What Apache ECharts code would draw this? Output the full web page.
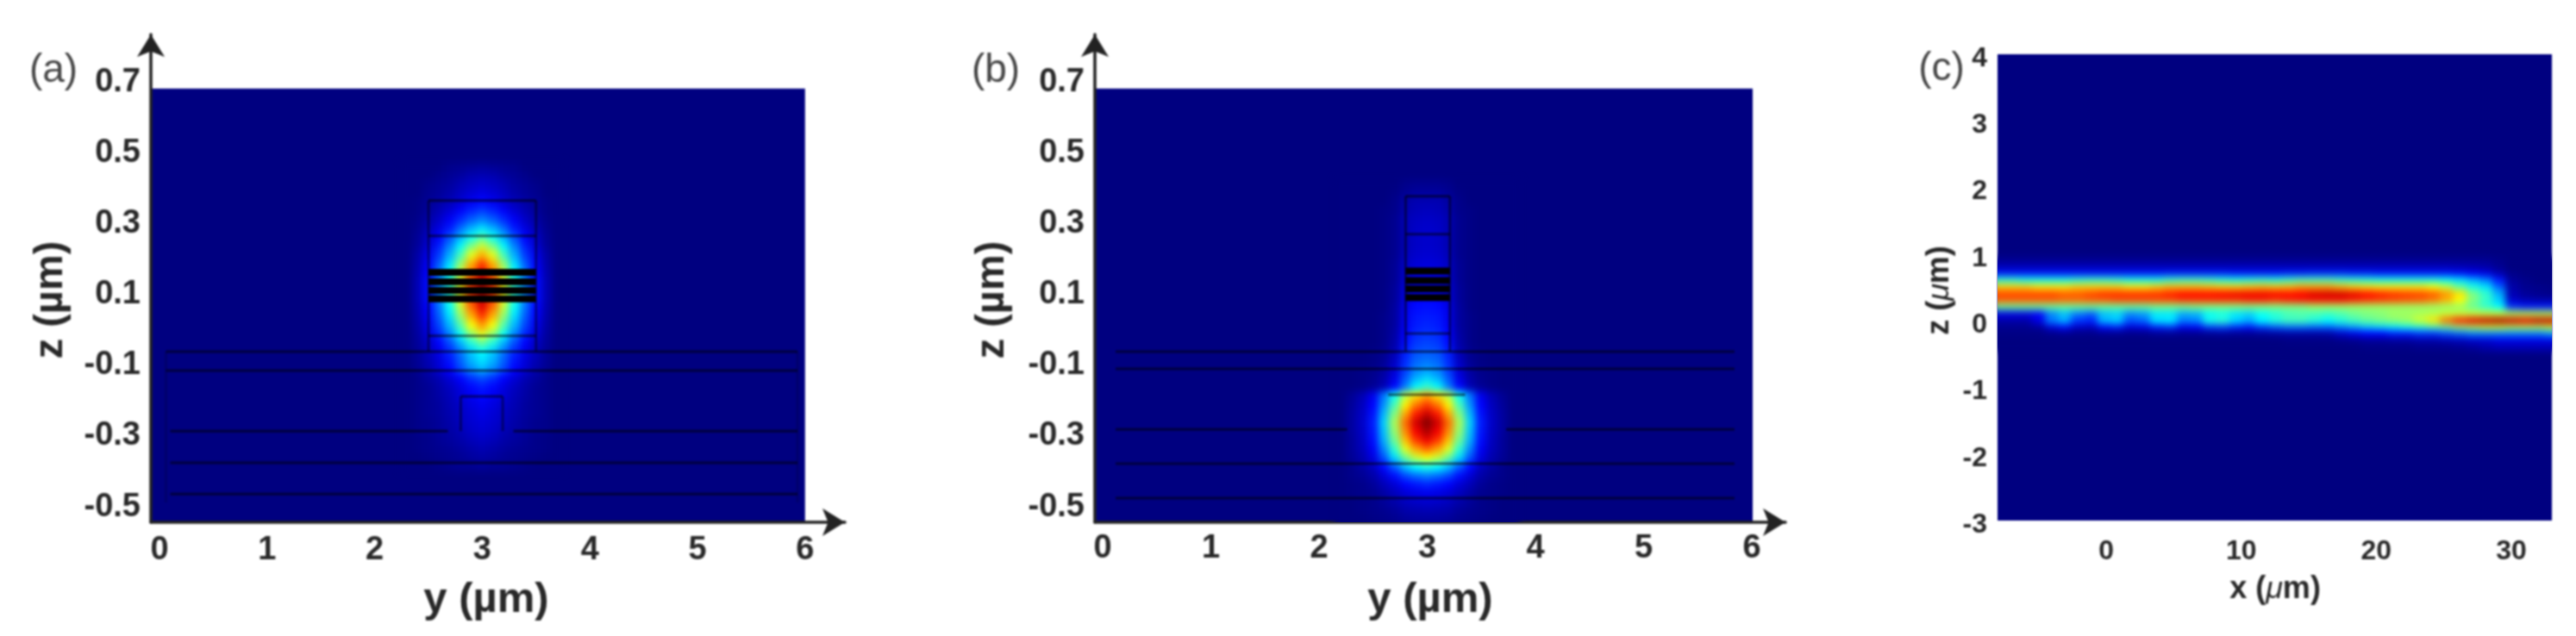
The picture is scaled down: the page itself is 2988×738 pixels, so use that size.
<!DOCTYPE html>
<html>
<head>
<meta charset="utf-8">
<style>html,body{margin:0;padding:0;background:#fff}#c{width:2988px;height:738px}</style>
<script src="https://cdn.jsdelivr.net/npm/echarts@6/dist/echarts.min.js"></script>
</head>
<body>
<div id="c"></div>
<script>
// ---- tick labels ----
const yTicksAB = [0,1,2,3,4,5,6];
const zTicksAB = [-0.5,-0.3,-0.1,0.1,0.3,0.5,0.7];
const xTicksC = [0,10,20,30];
const zTicksC = [-3,-2,-1,0,1,2,3,4];

// ---- panel (a): intensity, 0..20 ----
const yA = [2.3,2.4,2.5,2.6,2.7,2.8,2.9,3.0,3.1,3.2,3.3,3.4,3.5,3.6,3.7];
const zA = [0.45,0.425,0.4,0.375,0.35,0.325,0.3,0.275,0.25,0.225,0.2,0.175,0.15,0.125,0.1,0.075,0.05,0.025,0,-0.025,-0.05,-0.075,-0.1,-0.125,-0.15,-0.175,-0.2,-0.225,-0.25,-0.275,-0.3,-0.325,-0.35,-0.375,-0.4];
const fieldA = [
[0,0,0,0,.2,.3,.4,.5,.4,.3,.2,0,0,0,0],
[0,0,0,.2,.4,.6,.9,1,.9,.6,.4,.2,0,0,0],
[0,0,.2,.4,.6,1,1.3,1.5,1.3,1,.6,.4,.2,0,0],
[0,0,.3,.5,.8,1.3,1.7,2,1.7,1.3,.8,.5,.3,0,0],
[0,.1,.4,.7,1.1,1.6,2.2,2.6,2.2,1.6,1.1,.7,.4,.1,0],
[0,.1,.5,1,1.6,2.4,3.1,3.6,3.1,2.4,1.6,1,.5,.1,0],
[0,.2,.7,1.4,2.3,3.3,4.3,5,4.3,3.3,2.3,1.4,.7,.2,0],
[0,.3,1,1.9,3,4.6,6,7,6,4.6,3,1.9,1,.3,0],
[0,.4,1.3,2.4,4,5.9,7.7,9,7.7,5.9,4,2.4,1.3,.4,0],
[0,.5,1.6,3,5,7.4,9.8,11.5,9.8,7.4,5,3,1.6,.5,0],
[0,.7,2,3.6,5.9,8.8,11.9,14,11.9,8.8,5.9,3.6,2,.7,0],
[0,.8,2.3,4.3,6.9,10.4,14,16.5,14,10.4,6.9,4.3,2.3,.8,0],
[0,.9,2.5,4.7,7.6,11.3,15.3,18,15.3,11.3,7.6,4.7,2.5,.9,0],
[0,1,2.7,4.9,8,12,16.2,19,16.2,12,8,4.9,2.7,1,0],
[0,1,2.7,5.1,8.2,12.3,16.6,19.5,16.6,12.3,8.2,5.1,2.7,1,0],
[0,1,2.7,4.9,8,12,16.2,19,16.2,12,8,4.9,2.7,1,0],
[0,.9,2.5,4.7,7.6,11.3,15.3,18,15.3,11.3,7.6,4.7,2.5,.9,0],
[0,.8,2.3,4.3,6.9,10.4,14,16.5,14,10.4,6.9,4.3,2.3,.8,0],
[0,.7,2,3.8,6.1,9.1,12.3,14.5,12.3,9.1,6.1,3.8,2,.7,0],
[0,.6,1.7,3.1,5,7.6,10.2,12,10.2,7.6,5,3.1,1.7,.6,0],
[0,.5,1.3,2.5,4,6,8.1,9.5,8.1,6,4,2.5,1.3,.5,0],
[0,.4,1.1,2,3.2,4.7,6.4,7.5,6.4,4.7,3.2,2,1.1,.4,0],
[0,.4,1,1.8,2.9,4.4,6,7,6,4.4,2.9,1.8,1,.4,0],
[0,.3,.8,1.6,2.5,3.8,5.1,6,5.1,3.8,2.5,1.6,.8,.3,0],
[0,.2,.6,1,1.7,2.5,3.4,4,3.4,2.5,1.7,1,.6,.2,0],
[0,.2,.4,.8,1.3,1.9,2.6,3,2.6,1.9,1.3,.8,.4,.2,0],
[0,.2,.4,.7,1.1,1.7,2.2,2.6,2.2,1.7,1.1,.7,.4,.2,0],
[0,.2,.4,.6,1,1.4,1.9,2.2,1.9,1.4,1,.6,.4,.2,0],
[0,.2,.4,.6,.9,1.3,1.7,2,1.7,1.3,.9,.6,.4,.2,0],
[0,.2,.3,.5,.8,1.2,1.6,1.8,1.6,1.2,.8,.5,.3,.2,0],
[0,.2,.3,.5,.7,1,1.4,1.6,1.4,1,.7,.5,.3,.2,0],
[0,.1,.2,.4,.6,.8,1.1,1.3,1.1,.8,.6,.4,.2,.1,0],
[0,.1,.2,.3,.4,.6,.8,1,.8,.6,.4,.3,.2,.1,0],
[0,0,.1,.2,.3,.4,.6,.7,.6,.4,.3,.2,.1,0,0],
[0,0,0,.1,.2,.3,.3,.4,.3,.3,.2,.1,0,0,0]
];

// ---- panel (b) ----
const yB = [2.2,2.3,2.4,2.5,2.6,2.7,2.8,2.9,3.0,3.1,3.2,3.3,3.4,3.5,3.6,3.7,3.8];
const zB = [0.4,0.375,0.35,0.325,0.3,0.275,0.25,0.225,0.2,0.175,0.15,0.125,0.1,0.075,0.05,0.025,0,-0.025,-0.05,-0.075,-0.1,-0.125,-0.15,-0.175,-0.2,-0.225,-0.25,-0.275,-0.3,-0.325,-0.35,-0.375,-0.4,-0.425,-0.45,-0.475,-0.5,-0.525,-0.55];
const fieldB = [
[0,0,0,0,0,0,.2,.3,.3,.3,.2,0,0,0,0,0,0],
[0,0,0,0,0,.1,.4,.6,.6,.6,.4,.1,0,0,0,0,0],
[0,0,0,0,0,.2,.7,1,1,1,.7,.2,0,0,0,0,0],
[0,0,0,0,.1,.2,.8,1.1,1.2,1.1,.8,.2,.1,0,0,0,0],
[0,0,0,0,.1,.3,1,1.3,1.4,1.3,1,.3,.1,0,0,0,0],
[0,0,0,0,.1,.3,1,1.4,1.5,1.4,1,.3,.1,0,0,0,0],
[0,0,0,0,.1,.3,1,1.4,1.5,1.4,1,.3,.1,0,0,0,0],
[0,0,0,0,.1,.3,1,1.4,1.5,1.4,1,.3,.1,0,0,0,0],
[0,0,0,0,.1,.3,1.1,1.5,1.6,1.5,1.1,.3,.1,0,0,0,0],
[0,0,0,0,.1,.4,1.3,1.7,1.8,1.7,1.3,.4,.1,0,0,0,0],
[0,0,0,0,.1,.4,1.4,1.9,2,1.9,1.4,.4,.1,0,0,0,0],
[0,0,0,0,.1,.4,1.5,2.1,2.2,2.1,1.5,.4,.1,0,0,0,0],
[0,0,0,0,.1,.5,1.7,2.3,2.4,2.3,1.7,.5,.1,0,0,0,0],
[0,0,0,0,.1,.5,1.8,2.5,2.6,2.5,1.8,.5,.1,0,0,0,0],
[0,0,0,0,.1,.6,2,2.7,2.8,2.7,2,.6,.1,0,0,0,0],
[0,0,0,0,.2,.6,2.1,2.9,3,2.9,2.1,.6,.2,0,0,0,0],
[0,0,0,0,.2,.6,2.2,3,3.2,3,2.2,.6,.2,0,0,0,0],
[0,0,0,0,.2,.7,2.5,3.3,3.5,3.3,2.5,.7,.2,0,0,0,0],
[0,0,0,0,.2,.8,2.7,3.6,3.8,3.6,2.7,.8,.2,0,0,0,0],
[0,0,0,.1,.3,1,3,4,4.2,4,3,1,.3,.1,0,0,0],
[0,0,0,.1,.4,1.3,3.3,4.5,4.8,4.5,3.3,1.3,.4,.1,0,0,0],
[0,0,.1,.2,.6,1.6,3.6,5,5.5,5,3.6,1.6,.6,.2,.1,0,0],
[0,0,.1,.3,.8,2,4.2,6,6.8,6,4.2,2,.8,.3,.1,0,0],
[0,0,.1,.4,1,2.6,5,7.4,8.5,7.4,5,2.6,1,.4,.1,0,0],
[0,.4,1,2.2,4.8,7.8,11.2,13.3,14.5,13.3,11.2,7.8,4.8,2.2,1,.4,0],
[0,.5,1.2,2.5,5.4,8.9,12.7,15.2,16.5,15.2,12.7,8.9,5.4,2.5,1.2,.5,0],
[0,.6,1.3,2.8,6.1,10,14.2,17,18.5,17,14.2,10,6.1,2.8,1.3,.6,0],
[0,.6,1.4,3,6.6,10.8,15.4,18.4,20,18.4,15.4,10.8,6.6,3,1.4,.6,0],
[0,.6,1.3,2.9,6.3,10.4,14.8,17.7,19.2,17.7,14.8,10.4,6.3,2.9,1.3,.6,0],
[0,.5,1.2,2.7,5.9,9.6,13.7,16.4,17.8,16.4,13.7,9.6,5.9,2.7,1.2,.5,0],
[0,.5,1.1,2.3,5.1,8.4,11.9,14.3,15.5,14.3,11.9,8.4,5.1,2.3,1.1,.5,0],
[0,.4,.9,1.9,4.1,6.8,9.6,11.5,12.5,11.5,9.6,6.8,4.1,1.9,.9,.4,0],
[0,.2,.6,1.2,2.6,4.3,6.2,7.4,8,7.4,6.2,4.3,2.6,1.2,.6,.2,0],
[0,.2,.4,.8,1.7,2.7,3.9,4.6,5,4.6,3.9,2.7,1.7,.8,.4,.2,0],
[0,.1,.2,.5,1.1,1.7,2.5,2.9,3.2,2.9,2.5,1.7,1.1,.5,.2,.1,0],
[0,.1,.2,.3,.7,1.2,1.7,2,2.2,2,1.7,1.2,.7,.3,.2,.1,0],
[0,0,.1,.2,.5,.8,1.2,1.4,1.5,1.4,1.2,.8,.5,.2,.1,0,0],
[0,0,.1,.2,.3,.5,.8,.9,1,.9,.8,.5,.3,.2,.1,0,0],
[0,0,0,.1,.2,.3,.5,.6,.6,.6,.5,.3,.2,.1,0,0,0]
];

// ---- panel (c) ----
const xC = [-7.93,-6.95,-5.98,-5,-4.03,-3.05,-2.08,-1.1,-.13,.85,1.82,2.8,3.77,4.75,5.72,6.7,7.67,8.65,9.62,10.6,11.57,12.55,13.52,14.5,15.47,16.45,17.42,18.4,19.37,20.35,21.32,22.3,23.27,24.25,25.22,26.2,27.17,28.15,29.12,30.1,31.07,32.05,33.02];
const zC = [0.9,0.8,0.7,0.6,0.5,0.4,0.3,0.2,0.1,0,-0.1,-0.2,-0.3,-0.4];
const fieldC = [
[.4,.4,.4,.4,.4,.4,.4,.4,.4,.4,.4,.4,.4,.4,.4,.4,.4,.4,.4,.4,.4,.4,.4,.4,.4,.4,.4,.4,.4,.4,.4,.4,.4,.4,.4,.4,.4,.4,.2,0,0,0,0],
[1.2,1.2,1.2,1.2,1.2,1.2,1.2,1.2,1.2,1.2,1.2,1.2,1.2,1.2,1.2,1.2,1.2,1.2,1.2,1.2,1.2,1.2,1.2,1.2,1.2,1.2,1.2,1.2,1.2,1.2,1.2,1.2,1.2,1.2,1.2,1.1,1,.8,.4,0,0,0,0],
[3,3,3,3,3,3,3,3,3,3,3,3,3,3.2,3.2,3.2,3.2,3.2,3,3,3,3,3.2,3.2,3.4,3.4,3.4,3.2,3.2,3,3,3,3,3,3,2.8,2.4,2,1,.2,0,0,0],
[8.4,8.4,8,8,8,8,8.4,8.6,8.6,8.4,8,8,8,8.6,8.8,8.8,8.6,8.2,8,8.2,8.4,8.2,8.6,9,9,9,8.6,8.4,8.2,8,8,8,8,8,7.6,7,6,5,3,.5,.2,0,0],
[13.5,13.5,13.5,13,13,13,13.5,13.5,13.5,13.5,13,13,13.5,14,14,14,13.8,13.5,13.5,13.8,14,13.8,14,14.5,14.5,14.5,14,13.5,13.2,13,13,13,13,12.5,11.5,9.5,8,7,4.5,.8,.3,.2,.1],
[16.2,16.2,16.2,16.2,16.2,15.8,15.8,16.2,16.6,16.6,16.6,16.6,16.6,17,17.4,17.4,17.4,17.6,17.8,17.8,17.8,17.6,17.4,17.6,18.2,18.4,18.4,18,17.4,17,16.6,16.4,16.2,15.8,14.6,13,10,8.5,6,1,.5,.3,.2],
[15.6,15.6,15.6,15.6,15.6,15.4,15.4,15.6,15.6,16,16,16,16,16,16.4,16.4,16.4,16.4,16.4,16.8,16.8,16.4,16.8,17,17.2,17.2,17.2,16.8,16.4,16.2,16,15.8,15.6,15,14,12.4,10,8.5,6.5,1.5,1,.8,.8],
[9.5,9.5,9.5,9.5,9.5,9.5,9.5,9.5,9.5,9.5,9.5,9.5,9.8,9.8,9.8,10,10,10,10,10,10,10,10,10,10.5,10.5,10.5,10.5,10.5,10.5,10.5,10.5,10.5,10.5,10.5,10.5,9.5,8.5,7.5,3.5,3,3,3],
[2,2,2,2.5,5,6.2,5,4.4,6.2,6.6,5.2,5.6,7,7,5.8,6,7.4,7.8,7,6.6,7.6,8.2,8.8,9,8.8,8.6,9,9.6,10,10.2,10.6,10.6,10.8,11,11.4,11.4,11.4,11.4,11.4,11,11,11,11],
[.8,.8,.8,2,5,6,3.6,3.2,6.2,6.6,4.2,4.6,7,7.2,5,5.2,8,8.4,6.8,6,7.4,8.2,8.8,8.8,8.2,7.6,8.2,8.8,9.4,9.8,10.2,10.6,11.6,13,15.4,17,18,18.6,19,18.4,18,18.6,18.6],
[.3,.3,.3,.5,1.8,2.6,1.4,1.2,2.6,3,1.8,2,3,3.4,2.2,2.4,3.6,3.8,3.2,2.8,3.6,4.2,4.6,4.6,4.4,4.4,5,5.6,6.4,6.8,7.2,7.8,8.2,8.8,9.5,10.5,11,11.5,11.5,11,11,11,11.5],
[.1,.1,.1,.1,.2,.3,.2,.2,.3,.3,.2,.2,.4,.4,.3,.3,.4,.5,.4,.4,.5,.6,.7,.7,.7,.8,1.5,2,2.5,2.5,3,3,3.5,3.5,4,4.5,5,5,5,5,5,5,5.5],
[0,0,0,0,0,0,0,0,0,0,0,0,0,0,0,0,0,0,0,0,0,0,.1,.1,.1,.1,.2,.3,.5,.5,.6,.6,.8,.8,1,1.2,1.5,1.6,2,2,2,2,2],
[0,0,0,0,0,0,0,0,0,0,0,0,0,0,0,0,0,0,0,0,0,0,0,0,0,0,0,0,.1,.1,.1,.1,.2,.2,.2,.3,.5,.8,1,1,1,1,1]
];

// ---- outlines of the waveguide layers: [from, to, z] and [at, zFrom, zTo] ----
const layerLinesA = [[2.5,3.5,.354],[2.5,3.5,.254],[2.5,3.5,-.029],[.06,5.93,-.073],[.06,5.93,-.127],[2.8,3.19,-.2],[.1,2.68,-.298],[3.29,5.93,-.298],[.1,5.93,-.388],[.1,5.93,-.476]];
const sideLinesA = [[2.5,.354,-.073],[3.5,.354,-.073],[2.8,-.2,-.298],[3.19,-.2,-.298]];
const outerLinesA = [[.06,-.073,-.5],[5.93,-.073,-.5]];
const wellLinesA = [[2.5,3.5,.151],[2.5,3.5,.124],[2.5,3.5,.1],[2.5,3.5,.076]];
const layerLinesB = [[2.8,3.21,.366],[2.8,3.21,.259],[2.8,3.21,-.022],[.12,5.84,-.073],[.12,5.84,-.122],[2.64,3.35,-.195],[.12,2.26,-.293],[3.73,5.84,-.293],[.12,5.84,-.39],[.12,5.84,-.488]];
const sideLinesB = [[2.8,.366,-.073],[3.21,.366,-.073]];
const wellLinesB = [[2.8,3.21,.155],[2.8,3.21,.128],[2.8,3.21,.104],[2.8,3.21,.08]];

// ---- image extents in data units: [xMin, xMax, zMin, zMax] ----
const extentA = [-0.08, 6, -0.556, 0.671];
const extentB = [-0.072, 6.008, -0.556, 0.671];
const extentC = [-8.05, 33, -3, 4];

const jet = ['#000080','#0000ff','#0080ff','#00ffff','#80ff80','#ffff00','#ff8000','#ff0000','#800000'];
const font = '"Liberation Sans", Arial, sans-serif';
const ink = '#282828';

function cells(xs, zs, rows){
  const out = [];
  rows.forEach((r,i)=>r.forEach((v,j)=>out.push([xs[j], zs[i], v])));
  return out;
}
function cellRenderer(dx,dz){
  return (p,api)=>{
    const a = api.coord([api.value(0)-dx/2, api.value(1)+dz/2]);
    const b = api.coord([api.value(0)+dx/2, api.value(1)-dz/2]);
    return {type:'rect',silent:true,
      shape:{x:Math.floor(a[0]),y:Math.floor(a[1]),width:Math.ceil(b[0]-a[0])+1,height:Math.ceil(b[1]-a[1])+1},
      style:{fill:api.visual('color')}};
  };
}
function heat(g,xs,zs,rows,dx,dz){
  return {type:'custom',xAxisIndex:g,yAxisIndex:g,zlevel:1,silent:true,animation:false,
    clip:false,data:cells(xs,zs,rows),encode:{x:0,y:1},renderItem:cellRenderer(dx,dz)};
}
function base(g,e){
  return {type:'custom',xAxisIndex:g,yAxisIndex:g,z:1,silent:true,animation:false,data:[e],
    renderItem:(p,api)=>{
      const a=api.coord([api.value(0),api.value(3)]), b=api.coord([api.value(1),api.value(2)]);
      return {type:'rect',shape:{x:a[0],y:a[1],width:b[0]-a[0],height:b[1]-a[1]},style:{fill:jet[0]}};
    }};
}
function hLines(g,data,w,alpha){
  return {type:'custom',xAxisIndex:g,yAxisIndex:g,zlevel:2,silent:true,animation:false,data,
    renderItem:(p,api)=>{
      const a=api.coord([api.value(0),api.value(2)]), b=api.coord([api.value(1),api.value(2)]);
      return {type:'line',shape:{x1:a[0],y1:a[1],x2:b[0],y2:b[1]},style:{stroke:'#000',lineWidth:w,opacity:alpha}};
    }};
}
function vLines(g,data,w,alpha){
  return {type:'custom',xAxisIndex:g,yAxisIndex:g,zlevel:2,silent:true,animation:false,data,
    renderItem:(p,api)=>{
      const a=api.coord([api.value(0),api.value(1)]), b=api.coord([api.value(0),api.value(2)]);
      return {type:'line',shape:{x1:a[0],y1:a[1],x2:b[0],y2:b[1]},style:{stroke:'#000',lineWidth:w,opacity:alpha}};
    }};
}
function xAxisOf(g,min,max,ticks,size,margin,arrow){
  return {type:'value',gridIndex:g,min,max,z:5,splitLine:{show:false},axisTick:{show:false},
    axisLine:{show:arrow,onZero:false,symbol:['none','arrow'],symbolSize:[24,26],lineStyle:{color:'#222',width:3.5}},
    axisLabel:{customValues:ticks,color:ink,fontFamily:font,fontWeight:'bold',fontSize:size,margin,formatter:v=>String(v)}};
}
function yAxisOf(g,min,max,ticks,size,margin,arrow,shift){
  return {type:'value',gridIndex:g,min,max,z:5,splitLine:{show:false},axisTick:{show:false},
    axisLine:{show:arrow,onZero:false,symbol:['none','arrow'],symbolSize:[24,26],lineStyle:{color:'#222',width:3.5}},
    axisLabel:{customValues:ticks,color:ink,margin,formatter:v=>'{s|'+v+'}',
      rich:{s:{color:ink,fontFamily:font,fontWeight:'bold',fontSize:size,padding:[shift,0,0,0]}}}};
}
function label(text,x,y,size,weight,rot,color){
  return {type:'text',x,y,rotation:rot||0,z:10,silent:true,
    style:{text,fill:color||ink,fontFamily:font,fontWeight:weight,fontSize:size,align:'center',verticalAlign:'middle'}};
}
function richLabel(text,x,y,size,rot){
  return {type:'text',x,y,rotation:rot||0,z:10,silent:true,
    style:{text,fill:ink,fontFamily:font,fontWeight:'bold',fontSize:size,align:'center',verticalAlign:'middle',
      rich:{b:{fill:ink,fontFamily:font,fontWeight:'bold',fontSize:size},
            i:{fill:ink,fontFamily:font,fontStyle:'italic',fontWeight:'normal',fontSize:size}}}};
}

const chart = echarts.init(document.getElementById('c'),null,{renderer:'canvas'});
chart.setOption({
  animation:false,
  backgroundColor:'#fff',
  grid:[
    {left:175,width:805,top:40,height:566,containLabel:false},
    {left:1270,width:801,top:40,height:566,containLabel:false},
    {left:2317,width:643,top:63,height:541,containLabel:false}
  ],
  xAxis:[
    xAxisOf(0,-0.08,6.37,yTicksAB,38,14,true),
    xAxisOf(1,-0.072,6.311,yTicksAB,38,12,true),
    xAxisOf(2,-8.05,33,xTicksC,32,20,false)
  ],
  yAxis:[
    yAxisOf(0,-0.556,0.824,zTicksAB,38,12,true,10),
    yAxisOf(1,-0.556,0.824,zTicksAB,38,12,true,10),
    yAxisOf(2,-3,4,zTicksC,32,12,false,10)
  ],
  visualMap:{show:false,type:'continuous',seriesIndex:[3,4,5],dimension:2,min:0,max:20,inRange:{color:jet}},
  series:[
    base(0,extentA),base(1,extentB),base(2,extentC),
    heat(0,yA,zA,fieldA,0.1,0.025),
    heat(1,yB,zB,fieldB,0.1,0.025),
    heat(2,xC,zC,fieldC,0.975,0.1),
    hLines(0,layerLinesA,3,.5),vLines(0,sideLinesA,3,.4),vLines(0,outerLinesA,3,.15),hLines(0,wellLinesA,8,1),
    hLines(1,layerLinesB,3,.5),vLines(1,sideLinesB,3,.45),hLines(1,wellLinesB,8,1)
  ],
  graphic:[
    label('(a)',62,82,46,'normal',0,'#454545'),
    label('(b)',1155,82,46,'normal',0,'#454545'),
    label('(c)',2252,80,46,'normal',0,'#454545'),
    label('y (µm)',564,696,49,'bold'),
    label('y (µm)',1659,696,49,'bold'),
    label('z (µm)',59,348,47,'bold',Math.PI/2),
    label('z (µm)',1151,348,47,'bold',Math.PI/2),
    richLabel('{b|x (}{i|μ}{b|m)}',2639,684,36),
    richLabel('{b|z (}{i|μ}{b|m)}',2250,337,36,Math.PI/2)
  ]
});

// The reference is a soft, resampled image: soften each layer, and keep the
// softened field inside its image rectangle.
function soften(){
  const dom = chart.getDom();
  const layer = id => dom.querySelector('canvas[data-zr-dom-id="zr_'+id+'"]');
  const rects = [extentA,extentB,extentC].map((e,g)=>{
    const a = chart.convertToPixel({gridIndex:g},[e[0],e[3]]);
    const b = chart.convertToPixel({gridIndex:g},[e[1],e[2]]);
    return 'M'+a[0]+' '+a[1]+'H'+b[0]+'V'+b[1]+'H'+a[0]+'Z';
  }).join('');
  const l0=layer(0), l1=layer(1), l2=layer(2);
  if(l0) l0.style.filter='blur(1px)';
  if(l1){ l1.style.filter='blur(4px)'; l1.style.clipPath='path("'+rects+'")'; }
  if(l2) l2.style.filter='blur(1.2px)';
}
soften();
chart.on('finished',soften);
</script>
</body>
</html>
